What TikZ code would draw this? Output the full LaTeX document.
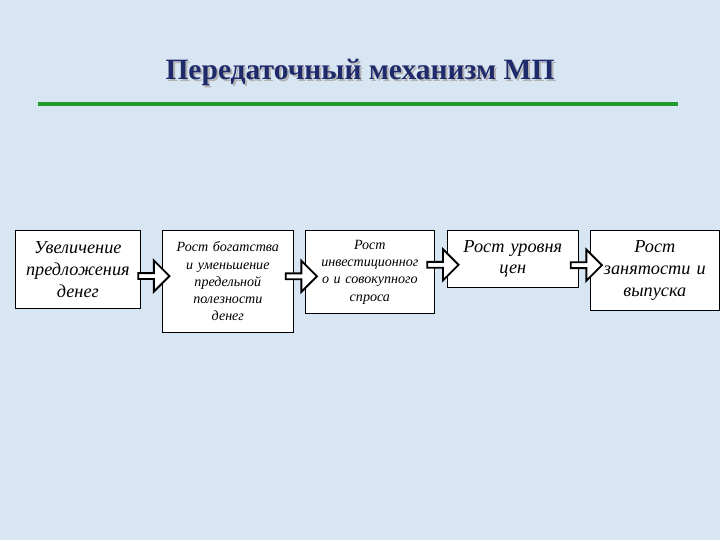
\documentclass[tikz,border=0pt]{standalone}
\usepackage{fontspec}
\setmainfont{Liberation Serif}
\usetikzlibrary{shapes.arrows, positioning, calc}
\definecolor{bgblue}{HTML}{D8E6F4}
\definecolor{titleblue}{HTML}{1F2A6B}
\definecolor{linegreen}{HTML}{1E9A2E}
\tikzset{
  box/.style={draw=black, fill=white, line width=0.6pt, anchor=north west, align=center, inner sep=1pt, font=\itshape},
  arr/.style={single arrow, draw=black, fill=white, line width=1.3pt, minimum height=0.78cm, minimum width=0.78cm, single arrow head extend=0.1cm, inner sep=0pt}
}
\begin{document}
\begin{tikzpicture}[x=0.025cm, y=-0.025cm]
        % фон
        \fill[bgblue] (0,0) rectangle (720,540);
        \useasboundingbox (0,0) rectangle (720,540);
        % заголовок
        \node[text=gray!60, font=\bfseries\fontsize{21}{24}\selectfont] at (362,74) {Передаточный механизм МП};
        \node (title) [text=titleblue, font=\bfseries\fontsize{21}{24}\selectfont] at (360,72) {Передаточный механизм МП};
        % зелёная линия
        \draw[linegreen, line width=3pt] (38,104) -- (678,104);
        % блоки
        \node (b1) [box, text width=3.05cm, minimum height=1.95cm, font=\itshape\fontsize{13}{15.5}\selectfont] at (15,230) {Увеличение\\предложения\\денег};
        \node (b2) [box, text width=3.2cm, minimum height=2.55cm, font=\itshape\fontsize{10}{12.3}\selectfont] at (162,230) {Рост богатства\\и уменьшение\\предельной\\полезности\\денег};
        \node (b3) [box, text width=3.15cm, minimum height=2.08cm, font=\itshape\fontsize{10}{12.3}\selectfont] at (305,230) {Рост\\инвестиционног\\о и совокупного\\спроса};
        \node (b4) [box, text width=3.2cm, minimum height=1.42cm, font=\itshape\fontsize{13}{15.5}\selectfont] at (447,230) {Рост уровня\\цен};
        \node (b5) [box, text width=3.15cm, minimum height=2.0cm, font=\itshape\fontsize{13}{15.5}\selectfont] at (590,230) {Рост\\занятости и\\выпуска};
        % стрелки
        \node (a1) [arr] at ($(b1.east)!0.55!(b2.west)$ |- 0,267) {};
        \node (a2) [arr] at ($(b2.east)!0.55!(b3.west)$ |- 0,267) {};
        \node (a3) [arr] at ($(b3.east)!0.55!(b4.west)$ |- 0,267) {};
        \node (a4) [arr] at ($(b4.east)!0.55!(b5.west)$ |- 0,267) {};
\end{tikzpicture}
\end{document}
